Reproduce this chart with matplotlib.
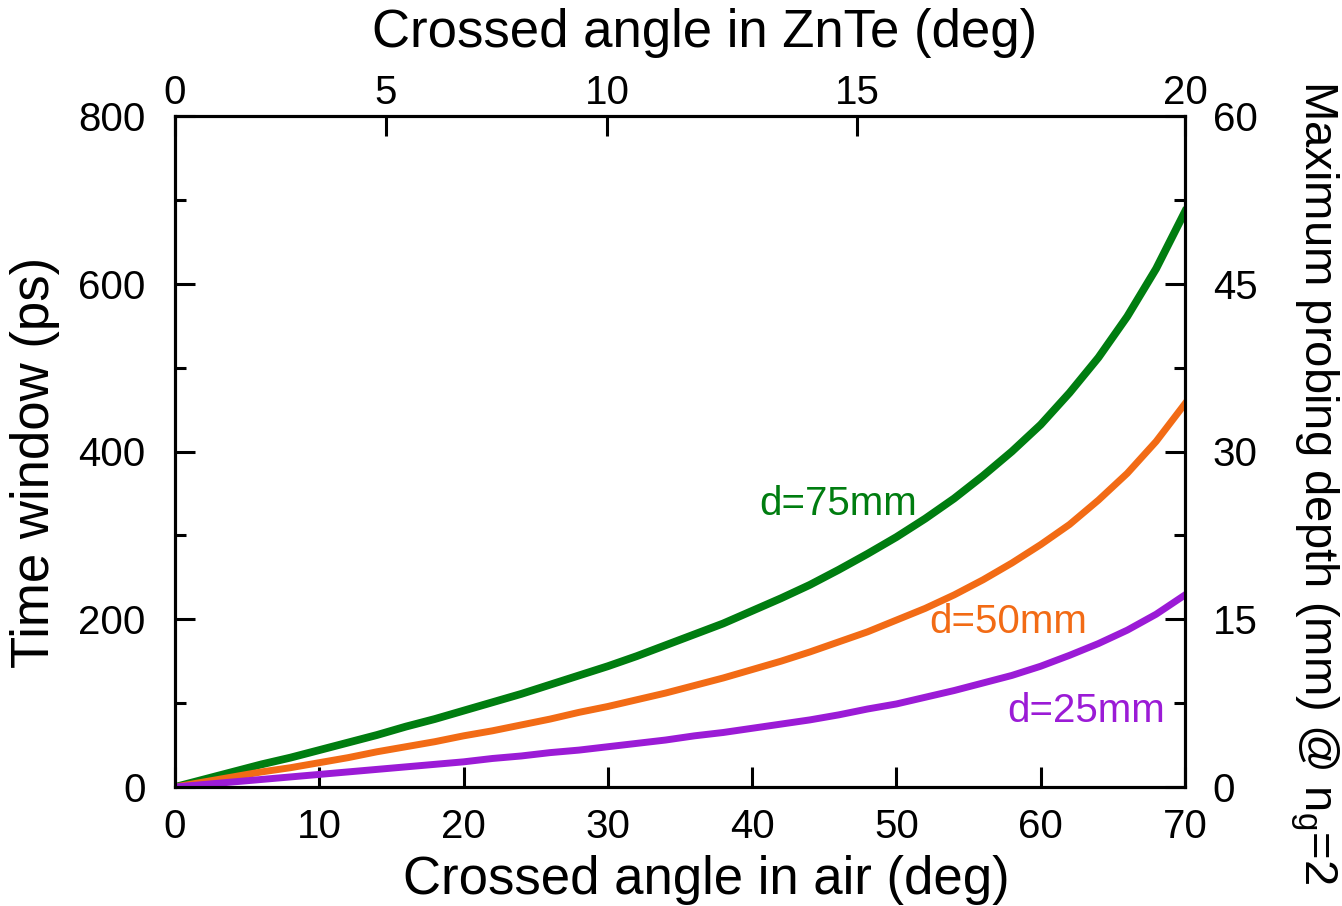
import matplotlib
matplotlib.use("Agg")
import matplotlib.pyplot as plt
from matplotlib.ticker import MultipleLocator

plt.rcParams['font.family'] = ['Liberation Sans', 'DejaVu Sans']
plt.rcParams['mathtext.fontset'] = 'custom'
plt.rcParams['mathtext.rm'] = 'Liberation Sans'
plt.rcParams['mathtext.it'] = 'Liberation Sans'

# Crossed angle in air (deg)
angle_air = [0, 2, 4, 6, 8, 10, 12, 14, 16, 18, 20, 22, 24, 26, 28, 30, 32, 34,
             36, 38, 40, 42, 44, 46, 48, 50, 52, 54, 56, 58, 60, 62, 64, 66, 68, 70]

# Time window (ps) for each thickness
tw_75mm = [0, 9, 18, 27, 35, 44, 53, 62, 72, 81, 91, 101, 111, 122, 133, 144, 156, 169,
           182, 195, 210, 225, 241, 259, 278, 298, 320, 344, 371, 400, 432, 470, 512, 561, 618, 686]
tw_50mm = [0, 6, 12, 18, 23, 29, 35, 42, 48, 54, 61, 67, 74, 81, 89, 96, 104, 112,
           121, 130, 140, 150, 161, 173, 185, 199, 213, 229, 247, 267, 289, 313, 342, 374, 412, 457]
tw_25mm = [0, 3, 6, 9, 12, 15, 18, 21, 24, 27, 30, 34, 37, 41, 44, 48, 52, 56,
           61, 65, 70, 75, 80, 86, 93, 99, 107, 115, 124, 133, 144, 157, 171, 187, 206, 229]

series_labels = ['d=75mm', 'd=50mm', 'd=25mm']
series_colors = ['#007d10', '#f26b15', '#9b1bd6']

# Top axis: crossed angle inside ZnTe, placed at the matching air angle
znte_labels = ['0', '5', '10', '15', '20']
znte_at_air = [0, 14.6, 29.95, 47.3, 70]

TICK_FS = 29
LABEL_FS = 38
LW_SPINE = 2.2

fig = plt.figure(figsize=(13.42, 9.06), dpi=100)
ax = fig.add_axes([175 / 1342, 1 - 787 / 906, 1010 / 1342, 671 / 906])

lws = [5.6, 5.0, 5.0]
for y, c, lw in zip([tw_75mm, tw_50mm, tw_25mm], series_colors, lws):
    ax.plot(angle_air, y, color=c, lw=lw, solid_joinstyle='round', clip_on=True, zorder=3)

ax.set_xlim(0, 70)
ax.set_ylim(0, 800)
ax.xaxis.set_major_locator(MultipleLocator(10))
ax.yaxis.set_major_locator(MultipleLocator(200))
ax.yaxis.set_minor_locator(MultipleLocator(100))
ax.tick_params(axis='x', which='major', direction='in', length=14.4, width=LW_SPINE,
               labelsize=TICK_FS, pad=15, top=False)
ax.tick_params(axis='y', which='major', direction='in', length=14.4, width=LW_SPINE,
               labelsize=TICK_FS, pad=21, right=False)
ax.tick_params(axis='y', which='minor', direction='in', length=8, width=LW_SPINE, right=False)
for s in ax.spines.values():
    s.set_linewidth(LW_SPINE)

# Right axis: maximum probing depth
ax2 = ax.twinx()
ax2.set_ylim(0, 60)
ax2.yaxis.set_major_locator(MultipleLocator(15))
ax2.yaxis.set_minor_locator(MultipleLocator(7.5))
ax2.tick_params(axis='y', which='major', direction='in', length=14.4, width=LW_SPINE,
                labelsize=TICK_FS, pad=20)
ax2.tick_params(axis='y', which='minor', direction='in', length=8, width=LW_SPINE)
for s in ax2.spines.values():
    s.set_linewidth(LW_SPINE)

# Top axis: crossed angle in ZnTe
ax3 = ax.twiny()
ax3.set_xlim(0, 70)
ax3.set_xticks(znte_at_air)
ax3.set_xticklabels(znte_labels)
ax3.tick_params(axis='x', which='major', direction='in', length=14.4, width=LW_SPINE,
                labelsize=TICK_FS, pad=3)
ax3.tick_params(axis='x', which='minor', top=False, bottom=False)
for s in ax3.spines.values():
    s.set_linewidth(LW_SPINE)

# Axis titles
ax.set_xlabel('Crossed angle in air (deg)', fontsize=LABEL_FS)
ax.xaxis.set_label_coords((706 - 175) / 1010, (787 - 880) / 671)
ax.xaxis.label.set_va('center')

ax.set_ylabel('Time window (ps)', fontsize=LABEL_FS)
ax.yaxis.set_label_coords((35 - 175) / 1010, (787 - 462) / 671)
ax.yaxis.label.set_va('center')

ax3.set_xlabel('Crossed angle in ZnTe (deg)', fontsize=LABEL_FS)
ax3.xaxis.set_label_coords((705 - 175) / 1010, (787 - 33) / 671)
ax3.xaxis.label.set_va('center')

ax2.set_ylabel(r'Maximum probing depth (mm) @ n$_\mathregular{g}$=2', fontsize=34, rotation=270)
ax2.yaxis.set_label_coords((1314 - 175) / 1010, (787 - 482) / 671)
ax2.yaxis.label.set_va('center')

# Curve labels
label_pos = [(40.5, 338), (52.3, 197), (57.7, 91)]
for (x, y), t, c in zip(label_pos, series_labels, series_colors):
    ax.text(x, y, t, color=c, fontsize=TICK_FS, ha='left', va='center', zorder=4)

fig.savefig('out.png', dpi=100)
